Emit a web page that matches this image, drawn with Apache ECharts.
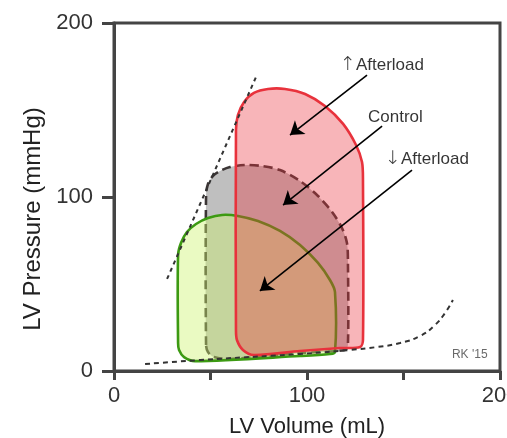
<!DOCTYPE html>
<html>
<head>
<meta charset="utf-8">
<script src="https://cdn.jsdelivr.net/npm/echarts@6/dist/echarts.min.js"></script>
<style>
  html, body { margin: 0; padding: 0; background: #fff; }
  #chart { width: 507px; height: 438px; }
</style>
</head>
<body>
<div id="chart"></div>
<script>
// pressure-volume loops, [volume mL, pressure mmHg]
const controlLoop = [
  [47.7, 14.9], [47.7, 101.1], [48.7, 107.5], [51.3, 112.1], [54.9, 114.9],
  [60.1, 117.2], [67.9, 118.4], [76.7, 117.8], [86.0, 115.5], [96.4, 109.2],
  [105.7, 100.6], [113.0, 91.4], [118.1, 82.2], [120.7, 73.6], [121.2, 63.8],
  [121.2, 14.9], [119.7, 12.1], [96.4, 10.3], [60.1, 6.9], [51.8, 8.0], [48.7, 10.9]
];
const lowAfterloadLoop = [
  [33.2, 16.1], [33.2, 66.7], [34.7, 73.6], [37.8, 79.9], [42.5, 84.5],
  [48.7, 87.9], [56.0, 89.7], [64.2, 89.1], [74.6, 86.2], [86.0, 80.5],
  [96.4, 72.4], [105.7, 62.1], [111.9, 52.3], [114.5, 45.4], [114.5, 10.9],
  [111.9, 9.8], [96.4, 8.6], [42.0, 5.7], [36.3, 8.0], [33.7, 12.1]
];
const highAfterloadLoop = [
  [63.2, 23.6], [63.2, 138.5], [64.2, 147.1], [67.4, 154.6], [72.5, 159.8],
  [79.8, 162.1], [88.6, 162.1], [99.0, 159.2], [109.3, 152.3], [118.7, 142.0],
  [125.4, 129.9], [128.5, 120.1], [129.0, 109.8], [129.0, 17.8], [127.5, 13.8],
  [117.1, 13.2], [96.4, 11.5], [72.5, 9.2], [66.8, 12.1], [63.7, 17.8]
];
// end-systolic and end-diastolic pressure-volume relations
const espvr = [[27.5, 52.9], [73.6, 169.0]];
const edpvr = [
  [16.1, 4.0], [44.6, 6.3], [96.4, 9.8], [122.3, 12.1], [136.3, 13.8],
  [148.2, 16.1], [158.5, 20.1], [166.3, 26.4], [171.5, 33.3], [175.6, 40.8]
];
// annotations (arrow glyph drawn with a rich style so it gets a font that has it)
const labelText = ['{a|\u2191}Afterload', 'Control', '{a|\u2193}Afterload'];
const labelPos = [[117.1, 175.9], [131.6, 146.0], [140.4, 121.8]];
const arrows = [
  [[131.1, 170.1], [91.2, 135.6]],
  [[138.9, 140.8], [87.6, 95.4]],
  [[154.4, 115.5], [75.6, 46.0]]
];
const signature = { text: "RK '15", pos: [175.1, 9.2] };
const xTicks = [0, 50, 100, 150, 200];
const xTickLabels = ['0', '', '100', '', '200'];

const font = "'Liberation Sans', Arial, Helvetica, sans-serif";
const axisColor = '#444';

function loopSeries(points, fill, stroke, dash, z) {
  return {
    type: 'custom',
    z: z,
    silent: true,
    data: [0],
    renderItem: function (params, api) {
      const pts = points.map(p => api.coord(p));
      return {
        type: 'polygon',
        shape: { points: pts, smooth: 0.3 },
        style: { fill: fill, stroke: stroke, lineWidth: 2.6, lineDash: dash }
      };
    }
  };
}

const myChart = echarts.init(document.getElementById('chart'));

myChart.setOption({
  backgroundColor: '#fff',
  animation: false,
  textStyle: { fontFamily: font },
  grid: {
    left: 114, right: 7, top: 23, bottom: 67,
    outerBoundsMode: 'none', containLabel: false,
    show: true, borderColor: axisColor, borderWidth: 3
  },
  xAxis: {
    type: 'value', min: 0, max: 200, interval: 50,
    name: 'LV Volume (mL)', nameLocation: 'middle', nameGap: 45,
    nameTextStyle: { fontSize: 22, color: '#222', fontFamily: font },
    axisLine: { onZero: false, lineStyle: { color: axisColor, width: 3 } },
    axisTick: { length: 9, lineStyle: { color: axisColor, width: 3 } },
    axisLabel: {
      fontSize: 22, color: '#333', margin: 14, fontFamily: font,
      hideOverlap: false,
      formatter: v => xTickLabels[xTicks.indexOf(v)]
    },
    splitLine: { show: false }
  },
  yAxis: {
    type: 'value', min: 0, max: 200, interval: 100,
    name: 'LV Pressure (mmHg)', nameLocation: 'middle', nameGap: 68,
    nameTextStyle: { fontSize: 24, color: '#222', fontFamily: font, padding: [0, 44, 0, 0] },
    axisLine: { onZero: false, lineStyle: { color: axisColor, width: 3 } },
    axisTick: { length: 12, lineStyle: { color: axisColor, width: 3 } },
    axisLabel: { fontSize: 22, color: '#333', margin: 21, fontFamily: font },
    splitLine: { show: false }
  },
  series: [
    loopSeries(controlLoop, '#bfbfbf', '#3b3535', [9, 5], 2),
    loopSeries(lowAfterloadLoop, 'rgba(205,242,110,0.42)', '#3c9a12', null, 3),
    loopSeries(highAfterloadLoop, 'rgba(235,50,60,0.36)', '#e8323c', null, 4),
    {
      type: 'line', z: 5, silent: true, symbol: 'none', data: espvr,
      lineStyle: { color: '#333', width: 2, type: [4, 4] }
    },
    {
      type: 'line', z: 5, silent: true, symbol: 'none', smooth: true, data: edpvr,
      lineStyle: { color: '#333', width: 2, type: [5, 4] }
    },
    {
      type: 'lines', coordinateSystem: 'cartesian2d', z: 6, silent: true,
      symbol: ['none', 'arrow'], symbolSize: [10, 13],
      lineStyle: { color: '#000', width: 1.6, opacity: 1 },
      data: arrows.map(a => ({ coords: a }))
    },
    {
      type: 'scatter', z: 7, silent: true, symbolSize: 0,
      data: labelPos,
      label: {
        show: true, position: [0, 0], align: 'left', verticalAlign: 'middle',
        fontSize: 17, color: '#000', fontFamily: font,
        formatter: p => labelText[p.dataIndex],
        rich: {
          a: { fontSize: 19, color: '#000', fontFamily: 'DejaVu Sans', fontWeight: 'lighter' }
        }
      }
    },
    {
      type: 'scatter', z: 7, silent: true, symbolSize: 0,
      data: [signature.pos],
      label: {
        show: true, position: [0, 0], align: 'left', verticalAlign: 'middle',
        fontSize: 12, color: '#444', fontFamily: font,
        formatter: () => signature.text
      }
    }
  ]
});
</script>
</body>
</html>
